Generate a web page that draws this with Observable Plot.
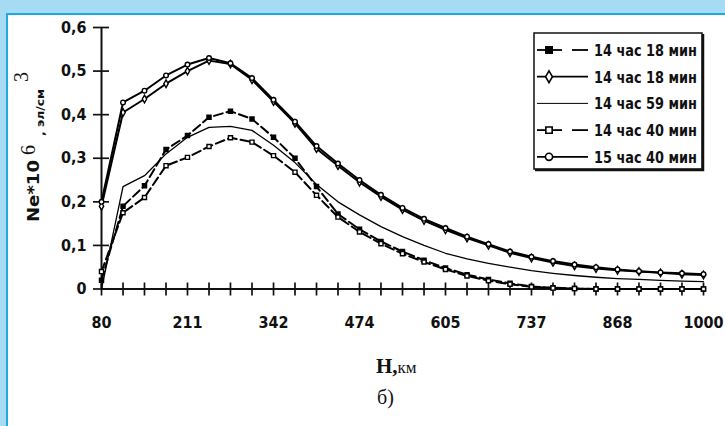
<!DOCTYPE html>
<html><head><meta charset="utf-8">
<script src="https://cdn.jsdelivr.net/npm/d3@7"></script>
<script src="https://cdn.jsdelivr.net/npm/@observablehq/plot@0.6"></script>
<style>
html,body{margin:0;padding:0;background:#fff;}
#wrap{position:relative;width:725px;height:426px;overflow:hidden;background:#a6dbf3;}
#inner{position:absolute;left:6px;top:13px;right:0;bottom:0;background:#fff;border-left:2px solid #1fa9e1;border-top:2px solid #1fa9e1;}
#chart{position:absolute;left:0;top:0;}
.tk{font-family:"DejaVu Sans Condensed","Liberation Sans Narrow",sans-serif;font-weight:bold;}
</style></head><body>
<div id="wrap"><div id="inner"></div><div id="chart"></div></div>
<script>
// categories: heights, km
const heights = [80, 112.9, 145.7, 178.6, 211.4, 244.3, 277.1, 310, 342.9, 375.7, 408.6, 441.4, 474.3, 507.1, 540, 572.9, 605.7, 638.6, 671.4, 704.3, 737.1, 770, 802.9, 835.7, 868.6, 901.4, 934.3, 967.1, 1000];
const xTickValues = [80, 211.4, 342.9, 474.3, 605.7, 737.1, 868.6, 1000];
const xTickLabels = ["80", "211", "342", "474", "605", "737", "868", "1000"];
const yTickValues = [0, 0.1, 0.2, 0.3, 0.4, 0.5, 0.6];
const yTickLabels = ["0", "0,1", "0,2", "0,3", "0,4", "0,5", "0,6"];
const seriesNames = ["14 час 18 мин", "14 час 18 мин", "14 час 59 мин", "14 час 40 мин", "15 час 40 мин"];

const s1 = [0.02, 0.19, 0.237, 0.32, 0.352, 0.394, 0.408, 0.39, 0.348, 0.30, 0.235, 0.172, 0.137, 0.109, 0.086, 0.066, 0.048, 0.033, 0.022, 0.013, 0.006, 0.003, 0.001, 0, 0, 0, 0, 0, 0];
const s2 = [0.19, 0.405, 0.436, 0.471, 0.50, 0.524, 0.516, 0.48, 0.43, 0.38, 0.322, 0.283, 0.245, 0.212, 0.182, 0.157, 0.136, 0.117, 0.10, 0.083, 0.071, 0.061, 0.053, 0.047, 0.043, 0.04, 0.037, 0.034, 0.032];
const s3 = [0.0, 0.235, 0.26, 0.31, 0.348, 0.371, 0.373, 0.364, 0.33, 0.29, 0.24, 0.2, 0.17, 0.143, 0.12, 0.1, 0.082, 0.069, 0.059, 0.05, 0.042, 0.036, 0.031, 0.027, 0.024, 0.022, 0.02, 0.018, 0.017];
const s4 = [0.04, 0.175, 0.21, 0.283, 0.302, 0.327, 0.347, 0.337, 0.306, 0.268, 0.215, 0.165, 0.131, 0.104, 0.081, 0.062, 0.045, 0.03, 0.019, 0.011, 0.005, 0.002, 0.001, 0, 0, 0, 0, 0, 0];
const s5 = [0.20, 0.428, 0.455, 0.49, 0.515, 0.53, 0.518, 0.484, 0.434, 0.384, 0.328, 0.288, 0.25, 0.216, 0.186, 0.161, 0.14, 0.12, 0.103, 0.086, 0.074, 0.064, 0.056, 0.05, 0.045, 0.041, 0.038, 0.036, 0.034];

const seriesValues = [s1, s2, s3, s4, s5];
const styles = [
  {symbol: "square", fill: "black", dash: "9,4", width: 2},
  {symbol: "diamond", fill: "white", dash: null, width: 2},
  {symbol: null, fill: null, dash: null, width: 1.3},
  {symbol: "square", fill: "white", dash: "9,4", width: 2},
  {symbol: "circle", fill: "white", dash: null, width: 2}
];
const rows = seriesValues.map((vals, k) => vals.map((v, i) => ({h: heights[i], v, k})));

const marks = [];
// axes
marks.push(Plot.ruleX([80], {y1: 0, y2: 0.6, stroke: "#111", strokeWidth: 2}));
marks.push(Plot.ruleY([0], {x1: 80, x2: 1000, stroke: "#111", strokeWidth: 2}));
marks.push(Plot.ruleX(heights, {x: d => d, y1: 0, y2: 0, insetTop: 7, insetBottom: 6, stroke: "#111", strokeWidth: 1.7}));
marks.push(Plot.ruleY(yTickValues, {y: d => d, x1: 80, x2: 80, insetLeft: -8, insetRight: -8, stroke: "#111", strokeWidth: 1.7}));
marks.push(Plot.text(xTickValues, {x: d => d, y: 0, dy: 34, text: (d, i) => xTickLabels[i], className: "tk", fontSize: 16, fill: "#111"}));
marks.push(Plot.text(yTickValues, {x: 80, y: d => d, dx: -15, text: (d, i) => yTickLabels[i], textAnchor: "end", className: "tk", fontSize: 16, fill: "#111"}));
// series
rows.forEach((data, k) => {
  const st = styles[k];
  marks.push(Plot.line(data, {x: "h", y: "v", stroke: "black", strokeWidth: st.width, strokeDasharray: st.dash || undefined}));
  if (st.symbol) marks.push(Plot.dot(data, {x: "h", y: "v", symbol: st.symbol, r: 2.3, fill: st.fill, stroke: "black", strokeWidth: 1.4}));
});

const chart = Plot.plot({
  width: 725, height: 426,
  marginLeft: 101, marginRight: 22, marginTop: 27, marginBottom: 137.5,
  x: {type: "linear", domain: [80, 1000], axis: null},
  y: {type: "linear", domain: [0, 0.6], axis: null},
  style: {background: "transparent", overflow: "visible"},
  marks
});
document.getElementById("chart").appendChild(chart);

const svg = d3.select(chart);
// legend
const lg = svg.append("g").attr("text-anchor", "start");
lg.append("rect").attr("x", 534).attr("y", 33).attr("width", 168).attr("height", 136)
  .attr("fill", "white").attr("stroke", "#111").attr("stroke-width", 1.5);
lg.append("path").attr("d", "M703,34 V170 H535").attr("fill", "none").attr("stroke", "#111").attr("stroke-width", 2.5);
const symMap = {square: d3.symbolSquare, diamond: d3.symbolDiamond, circle: d3.symbolCircle};
seriesNames.forEach((name, k) => {
  const st = styles[k];
  const y = 50 + 26.7 * k;
  if (st.dash) {
    lg.append("line").attr("x1", 537).attr("x2", 562).attr("y1", y).attr("y2", y).attr("stroke", "black").attr("stroke-width", 1.8);
    lg.append("line").attr("x1", 572).attr("x2", 588).attr("y1", y).attr("y2", y).attr("stroke", "black").attr("stroke-width", 1.8);
  } else {
    lg.append("line").attr("x1", 537).attr("x2", 588).attr("y1", y).attr("y2", y).attr("stroke", "black").attr("stroke-width", st.symbol ? 1.8 : 1);
  }
  if (st.symbol) {
    lg.append("path").attr("d", d3.symbol(symMap[st.symbol], 40)()).attr("transform", `translate(549,${y})`)
      .attr("fill", st.fill).attr("stroke", "black").attr("stroke-width", 1.6);
  }
  lg.append("text").attr("x", 594).attr("y", y + 6).attr("class", "tk").attr("font-size", 15)
    .attr("textLength", 103).attr("lengthAdjust", "spacingAndGlyphs").attr("fill", "#111").text(name);
});

// y axis title (rotated)
const yt = svg.append("g").attr("text-anchor", "start").attr("transform", "translate(39,222) rotate(-90)");
yt.append("text").attr("x", 0).attr("y", 0).attr("class", "tk").attr("font-size", 15)
  .attr("textLength", 62).attr("lengthAdjust", "spacingAndGlyphs").attr("fill", "#111").text("Ne*10");
yt.append("text").attr("x", 67).attr("y", -4).attr("font-family", "Liberation Serif, serif").attr("font-size", 20).attr("fill", "#111").text("6");
yt.append("text").attr("x", 86).attr("y", 5).attr("class", "tk").attr("font-size", 10)
  .attr("textLength", 47).attr("lengthAdjust", "spacingAndGlyphs").attr("fill", "#111").text(", эл/см");
yt.append("text").attr("x", 140).attr("y", -11).attr("font-family", "Liberation Serif, serif").attr("font-size", 20).attr("fill", "#111").text("3");

// x axis title and caption
const xt = svg.append("text").attr("text-anchor", "start").attr("x", 376).attr("y", 373).attr("fill", "#111");
xt.append("tspan").attr("font-family", "Liberation Serif, serif").attr("font-weight", "bold").attr("font-size", 21).text("Н,");
xt.append("tspan").attr("font-family", "Liberation Serif, serif").attr("font-size", 17).text("км");
svg.append("text").attr("text-anchor", "start").attr("x", 377).attr("y", 404).attr("font-family", "Liberation Serif, serif").attr("font-size", 20).attr("fill", "#111").text("б)");
</script>
</body></html>
